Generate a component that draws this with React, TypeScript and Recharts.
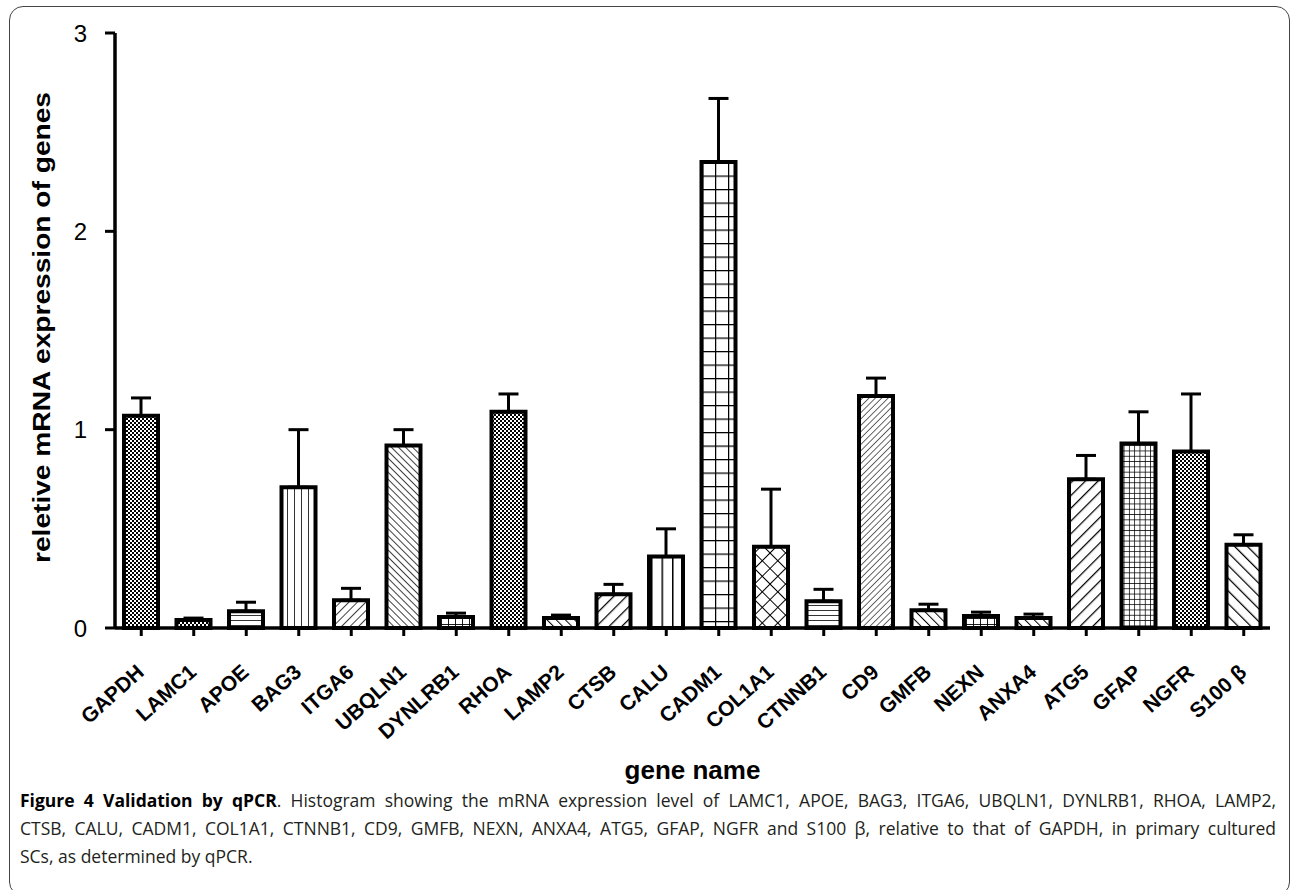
import React from "react";
import { BarChart, Bar, XAxis, YAxis, ErrorBar, Cell } from "recharts";

const genes = [
  "GAPDH", "LAMC1", "APOE", "BAG3", "ITGA6", "UBQLN1", "DYNLRB1", "RHOA",
  "LAMP2", "CTSB", "CALU", "CADM1", "COL1A1", "CTNNB1", "CD9", "GMFB",
  "NEXN", "ANXA4", "ATG5", "GFAP", "NGFR", "S100 β",
];
const expression = [
  1.07, 0.04, 0.085, 0.71, 0.14, 0.92, 0.055, 1.09,
  0.05, 0.17, 0.36, 2.35, 0.41, 0.135, 1.17, 0.09,
  0.06, 0.05, 0.75, 0.93, 0.89, 0.42,
];
const errorUp = [
  0.09, 0.01, 0.045, 0.29, 0.06, 0.08, 0.02, 0.09,
  0.015, 0.05, 0.14, 0.32, 0.29, 0.06, 0.09, 0.03,
  0.02, 0.02, 0.12, 0.16, 0.29, 0.05,
];
const yTicks = [0, 1, 2, 3];

// hatch pattern used by each bar, in gene order
const fills = [
  "checker", "checker", "hLines", "vFine", "upMid", "downFine", "gridSmall", "checker",
  "downMid", "upWide", "vWide", "gridBig", "diamond", "hLines", "upFine", "downMid",
  "gridSmall", "downMid", "upWide", "gridFine", "checker", "downWide",
];

const data = genes.map((g, i) => ({ gene: g, value: expression[i], err: [0, errorUp[i]] }));

const FONT = "'Liberation Sans', Arial, sans-serif";

function LinePattern({ id, gap, width, angle }: { id: string; gap: number; width: number; angle: number }) {
  return (
    <pattern id={id} patternUnits="userSpaceOnUse" width={gap} height={gap} patternTransform={`rotate(${angle})`}>
      <rect width={gap} height={gap} fill="#fff" />
      <line x1={0} y1={0} x2={0} y2={gap} stroke="#000" strokeWidth={width} />
    </pattern>
  );
}

function GridPattern({ id, w, h, width }: { id: string; w: number; h: number; width: number }) {
  return (
    <pattern id={id} patternUnits="userSpaceOnUse" width={w} height={h}>
      <rect width={w} height={h} fill="#fff" />
      <line x1={0} y1={0} x2={w} y2={0} stroke="#000" strokeWidth={width} />
      <line x1={0} y1={0} x2={0} y2={h} stroke="#000" strokeWidth={width} />
    </pattern>
  );
}

const GeneTick = (props: any) => {
  const { x, y, payload } = props;
  return (
    <g transform={`translate(${x + 4},${y + 36})`}>
      <text
        textAnchor="end"
        transform="rotate(-42)"
        fontSize={21}
        fontWeight="bold"
        fontFamily={FONT}
        fill="#000"
      >
        {payload.value}
      </text>
    </g>
  );
};

const YTitle = (props: any) => {
  const vb = props.viewBox || { x: 0, y: 33, width: 115, height: 595 };
  const cx = vb.x + 42;
  const cy = vb.y + vb.height / 2 - 3;
  return (
    <text
      x={cx}
      y={cy}
      transform={`rotate(-90, ${cx}, ${cy})`}
      textAnchor="middle"
      dominantBaseline="central"
      fontSize={23}
      fontWeight="bold"
      fontFamily={FONT}
      textLength={471}
      lengthAdjust="spacingAndGlyphs"
      fill="#000"
    >
      reletive mRNA expression of genes
    </text>
  );
};

export default function App() {
  return (
    <div style={{ position: "absolute", left: 0, top: 0, width: 1293, height: 890, background: "#fff", overflow: "hidden" }}>
      <div
        style={{
          position: "absolute",
          left: 9,
          top: 6,
          width: 1281,
          height: 890,
          border: "1.5px solid #444",
          borderRadius: 14,
          boxSizing: "border-box",
        }}
      />
      <div style={{ position: "absolute", left: 0, top: 0 }}>
        <BarChart width={1293} height={800} data={data} margin={{ top: 33, right: 23, left: 0, bottom: 0 }}>
          <defs>
            <pattern id="checker" patternUnits="userSpaceOnUse" width={4} height={4}>
              <rect width={4} height={4} fill="#fff" />
              <rect width={2} height={2} fill="#000" />
              <rect x={2} y={2} width={2} height={2} fill="#000" />
            </pattern>
            <LinePattern id="hLines" gap={5} width={1.6} angle={90} />
            <LinePattern id="vFine" gap={7} width={1.6} angle={0} />
            <LinePattern id="vWide" gap={10.5} width={3} angle={0} />
            <LinePattern id="upFine" gap={4.5} width={1.2} angle={45} />
            <LinePattern id="upMid" gap={6} width={1.5} angle={45} />
            <LinePattern id="upWide" gap={9} width={2.5} angle={45} />
            <LinePattern id="downFine" gap={5} width={1.5} angle={-45} />
            <LinePattern id="downMid" gap={6.5} width={2} angle={-45} />
            <LinePattern id="downWide" gap={9} width={2.5} angle={-45} />
            <GridPattern id="gridSmall" w={7} h={6} width={1.8} />
            <GridPattern id="gridFine" w={5.3} h={5.3} width={1.5} />
            <GridPattern id="gridBig" w={13} h={13.5} width={2.5} />
            <pattern id="diamond" patternUnits="userSpaceOnUse" width={11} height={11} patternTransform="rotate(45)">
              <rect width={11} height={11} fill="#fff" />
              <line x1={0} y1={0} x2={11} y2={0} stroke="#000" strokeWidth={2} />
              <line x1={0} y1={0} x2={0} y2={11} stroke="#000" strokeWidth={2} />
            </pattern>
          </defs>
          <XAxis
            dataKey="gene"
            interval={0}
            height={172}
            axisLine={{ stroke: "#000", strokeWidth: 3.5 }}
            tickLine={{ stroke: "#000", strokeWidth: 3 }}
            tickSize={8}
            tick={<GeneTick />}
            label={{
              value: "gene name",
              position: "insideBottom",
              offset: 21,
              fontSize: 26,
              fontWeight: "bold",
              fontFamily: FONT,
              fill: "#000",
            }}
          />
          <YAxis
            width={115}
            domain={[0, 3]}
            ticks={yTicks}
            interval={0}
            axisLine={{ stroke: "#000", strokeWidth: 3.5 }}
            tickLine={{ stroke: "#000", strokeWidth: 3 }}
            tickSize={10}
            tickMargin={18}
            tick={{ fill: "#000", fontSize: 24, fontFamily: FONT }}
            label={(p: any) => <YTitle {...p} />}
          />
          <Bar dataKey="value" barSize={34} stroke="#000" strokeWidth={4} isAnimationActive={false}>
            {data.map((d, i) => (
              <Cell key={d.gene} fill={`url(#${fills[i]})`} />
            ))}
            <ErrorBar dataKey="err" width={10} stroke="#000" strokeWidth={3} direction="y" />
          </Bar>
        </BarChart>
      </div>
      <div
        style={{
          position: "absolute",
          left: 20,
          top: 786,
          width: 1256,
          fontFamily: "'Open Sans', 'Noto Sans', sans-serif",
          fontSize: 17.5,
          lineHeight: "28px",
          color: "#231f20",
        }}
      >
        <div style={{ textAlign: "justify", textAlignLast: "justify", whiteSpace: "nowrap" }}>
          <b style={{ color: "#000" }}>Figure 4 Validation by qPCR</b>. Histogram showing the mRNA expression level of
          LAMC1, APOE, BAG3, ITGA6, UBQLN1, DYNLRB1, RHOA, LAMP2,
        </div>
        <div style={{ textAlign: "justify", textAlignLast: "justify", whiteSpace: "nowrap" }}>
          CTSB, CALU, CADM1, COL1A1, CTNNB1, CD9, GMFB, NEXN, ANXA4, ATG5, GFAP, NGFR and S100 β, relative to that of
          GAPDH, in primary cultured
        </div>
        <div>SCs, as determined by qPCR.</div>
      </div>
    </div>
  );
}
